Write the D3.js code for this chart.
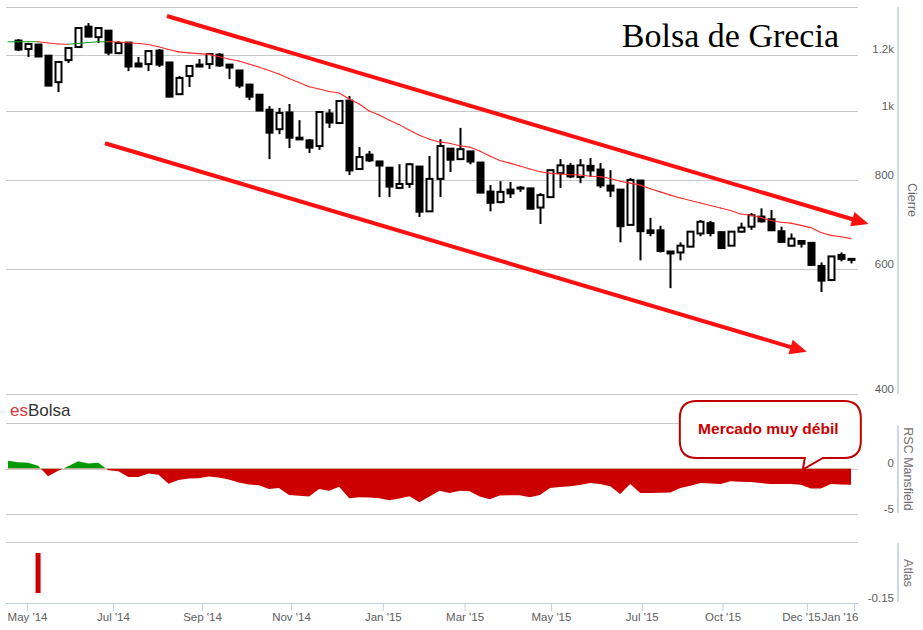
<!DOCTYPE html>
<html><head><meta charset="utf-8">
<script src="https://cdn.jsdelivr.net/npm/d3@7"></script>
<style>body{margin:0;background:#fff}svg{display:block}</style>
</head><body><svg id="c" width="923" height="630"></svg>
<script>
// ---------- DATA (weekly candles, index 0 = first visible week) ----------
const opens  = [1258,1222,1242,1198,1098,1179,1230,1316,1270,1299,1206,1250,1168,1164,1218,1172,1056,1120,1164,1164,1202,1164,1142,1091,1056,1006,943,997,919,911,893,994,962,1036,829,870,851,834,780,790,837,723,803,887,856,879,848,772,745,777,782,780,732,757,818,839,808,839,829,787,777,692,800,681,681,631,633,645,673,697,677,647,677,688,712,706,679,647,658,654,607,579,629,621];
const highs  = [1262,1242,1242,1198,1172,1230,1308,1329,1308,1299,1254,1250,1191,1214,1222,1172,1120,1157,1183,1206,1206,1164,1142,1091,1056,1016,1010,1023,971,913,997,1006,1033,1050,890,879,851,834,842,845,837,865,913,887,947,879,848,787,797,795,785,780,767,826,856,845,856,859,845,826,777,805,800,708,690,635,654,677,703,701,677,677,697,719,730,726,688,673,658,654,613,625,633,621];
const lows   = [1214,1191,1191,1084,1063,1168,1230,1270,1246,1198,1202,1138,1153,1138,1153,1046,1056,1081,1153,1146,1153,1109,1077,1036,1000,856,928,887,911,873,882,947,962,813,829,848,757,757,777,780,710,723,757,821,856,842,767,723,742,755,770,728,694,757,780,805,792,808,780,757,654,692,617,667,633,564,617,645,667,667,641,647,675,681,697,679,654,645,643,607,557,577,615,611];
const closes = [1218,1242,1191,1084,1172,1226,1308,1270,1308,1206,1246,1153,1153,1214,1160,1046,1113,1157,1153,1202,1157,1149,1084,1046,1000,931,994,916,911,887,997,962,1033,824,862,851,837,782,790,842,721,803,893,853,884,848,767,742,770,765,780,728,762,826,839,808,839,824,785,772,688,800,677,673,635,635,647,677,699,673,641,677,686,714,699,679,654,662,650,607,577,625,619,617];
// 30-week moving average (first value = week before the first visible candle)
const movingAvg = [1251,1251,1251,1251,1246,1242,1241,1244,1248,1251,1251,1250,1247,1244,1240,1231,1220,1211,1207,1204,1201,1193,1183,1176,1164,1153,1140,1127,1111,1097,1082,1074,1065,1060,1040,1023,1000,987,971,957,940,925,913,905,901,894,890,879,865,852,845,837,829,822,818,816,814,813,810,809,804,797,792,787,778,770,762,755,749,743,737,731,725,717,714,709,702,698,696,691,686,675,669,666,662];
// RSC Mansfield (same indexing as movingAvg)
const rscMansfield = [0.85,0.7,0.63,0.3,-0.85,-0.25,0.25,0.8,0.55,0.63,-0.2,-0.3,-0.93,-0.93,-0.56,-0.7,-1.67,-1.25,-1.1,-1.07,-0.89,-1.0,-1.2,-1.55,-1.75,-1.85,-2.25,-2.15,-2.9,-3.0,-3.07,-2.26,-2.44,-2.0,-3.26,-3.15,-3.2,-3.26,-3.5,-3.3,-3.04,-3.7,-3.07,-2.44,-2.7,-2.44,-2.5,-3.07,-3.37,-2.96,-2.93,-2.95,-3.15,-2.9,-2.15,-2.04,-1.95,-1.8,-1.6,-1.7,-1.96,-2.8,-1.7,-2.7,-2.68,-2.66,-2.63,-2.15,-1.9,-1.6,-1.65,-1.7,-1.41,-1.45,-1.48,-1.6,-1.7,-1.7,-1.7,-1.78,-2.2,-2.2,-1.7,-1.75,-1.78];
// Atlas indicator
const atlasWeeks  = [2];
const atlasValues = [-0.12];
// axis ticks
const priceTicks = [400,600,800,1000,1200,1400];
const priceTickLabels = ["400","600","800","1k","1.2k",""];
const rscTicks = [-5,0,5];
const rscTickLabels = ["-5","0",""];
const atlasTicks = [-0.15];
const atlasTickLabels = ["-0.15"];
const weekTicks = [0.9,9.46,18.33,27.2,36.35,44.5,53.1,62.15,70.2,78.6,83.3];
const weekTickLabels = ["May '14","Jul '14","Sep '14","Nov '14","Jan '15","Mar '15","May '15","Jul '15","Oct '15","Dec '15","Jan '16"];
// trend channel arrows: [weekIndex, price]
const trendStarts = [[14.84,1360],[8.67,901]];
const trendEnds   = [[84.76,694],[78.6,459]];
const calloutWeek = 78.2;

// ---------- LAYOUT ----------
const W=923, H=630, L=6, R=858;
const svg=d3.select("#c");
const font='"Liberation Sans", Arial, sans-serif';
const x=d3.scaleLinear().domain([0,83]).range([18,851]);
const yP=d3.scaleLog().domain([400,1400]).range([394.4,7]);
const yR=d3.scaleLinear().domain([-5,5]).range([514,423]);
const yA=d3.scaleLinear().domain([-0.15,0.033]).range([603,542]);

const defs=svg.append("defs");
defs.append("clipPath").attr("id","cp").append("rect").attr("x",L).attr("y",6).attr("width",R-L).attr("height",390);
defs.append("clipPath").attr("id","pos").append("rect").attr("x",L).attr("y",0).attr("width",R-L).attr("height",yR(0));
defs.append("clipPath").attr("id","neg").append("rect").attr("x",L).attr("y",yR(0)).attr("width",R-L).attr("height",100);

// gridlines
const grid=svg.append("g").attr("stroke","#c8c8c8").attr("stroke-width",1);
function gl(y){grid.append("line").attr("x1",L).attr("x2",R).attr("y1",Math.round(y)+0.5).attr("y2",Math.round(y)+0.5);}
priceTicks.forEach(v=>gl(yP(v)));
rscTicks.forEach(v=>gl(yR(v)));
gl(yA(yA.domain()[1]));

// right axis labels
function labels(scale,ticks,labs){
  svg.append("g").attr("transform","translate(894,0)")
    .call(d3.axisLeft(scale).tickValues(ticks).tickFormat((d,i)=>labs[i]).tickSize(0).tickPadding(0))
    .call(g=>{g.select(".domain").remove();g.selectAll("line").remove();
      g.attr("font-family",null).attr("font-size",null);
      g.selectAll("text").attr("dy",null).attr("y",-2).attr("fill","#606060")
       .style("font-family",font).style("font-size","11.5px");});
}
labels(yP,priceTicks,priceTickLabels);
labels(yR,rscTicks,rscTickLabels);
labels(yA,atlasTicks,atlasTickLabels);

// right axis lines
const ax=svg.append("g").attr("stroke","#c0d0e0").attr("stroke-width",1.6);
[[7,394],[425,513],[543,602]].forEach(s=>ax.append("line").attr("x1",898).attr("x2",898).attr("y1",s[0]).attr("y2",s[1]));

// axis titles
function title(t,cx,cy){svg.append("text").attr("transform",`translate(${cx},${cy}) rotate(90)`).attr("text-anchor","middle")
  .attr("fill","#707070").style("font-family",font).style("font-size","12.5px").text(t);}
title("Cierre",908,200);
title("RSC Mansfield",904,469);
title("Atlas",904,573);

// x axis
const xa=svg.append("g").attr("transform","translate(0,603)")
  .call(d3.axisBottom(x).tickValues(weekTicks).tickFormat((d,i)=>weekTickLabels[i]).tickSize(8).tickPadding(0));
xa.select(".domain").remove();
xa.attr("font-family",null).attr("font-size",null);
xa.selectAll("line").attr("stroke","#c0d0e0");
xa.selectAll("text").attr("dy",null).attr("y",18).attr("fill","#606060").style("font-family",font).style("font-size","11.5px");
xa.append("line").attr("x1",L).attr("x2",R).attr("y1",0.5).attr("y2",0.5).attr("stroke","#c0d0e0");
// keep labels inside the plot and avoid collisions (right to left)
const tickNodes=xa.selectAll(".tick").nodes().reverse();
let limit=R;
tickNodes.forEach(n=>{
  const d=d3.select(n).datum(), t=d3.select(n).select("text");
  const w=t.node().getComputedTextLength(), px=x(d);
  let shift=0;
  if(px+w/2>limit) shift=limit-(px+w/2);
  t.attr("x",shift);
  limit=px+shift-w/2-1;
});

// candles
const cg=svg.append("g").attr("clip-path","url(#cp)");
opens.forEach((o,j)=>{
  const c=closes[j], cx=Math.round(x(j))+0.5;
  cg.append("line").attr("x1",cx).attr("x2",cx).attr("y1",yP(highs[j])).attr("y2",yP(lows[j])).attr("stroke","#000").attr("stroke-width",2);
  const top=yP(Math.max(o,c)), bot=yP(Math.min(o,c));
  if(c>o){
    cg.append("rect").attr("x",cx-3).attr("y",top).attr("width",6).attr("height",Math.max(bot-top,1.5))
      .attr("fill","#fff").attr("stroke","#000").attr("stroke-width",2);
  } else {
    cg.append("rect").attr("x",cx-4).attr("y",top-0.5).attr("width",8).attr("height",Math.max(bot-top+1,3)).attr("fill","#000");
  }
});

// moving average coloured by RSC sign
const mg=svg.append("g").attr("clip-path","url(#cp)");
for(let k=0;k<movingAvg.length-1;k++){
  const pos=(rscMansfield[k]+rscMansfield[k+1])/2>0;
  mg.append("line").attr("x1",x(k-1)).attr("y1",yP(movingAvg[k])).attr("x2",x(k)).attr("y2",yP(movingAvg[k+1]))
    .attr("stroke",pos?"#1a9a1a":"#ff2a2a").attr("stroke-width",1.1).attr("stroke-linecap","round");
}

// trend arrows
trendStarts.forEach((s,i)=>{
  const e=trendEnds[i];
  const x1=x(s[0]),y1=yP(s[1]),x2=x(e[0]),y2=yP(e[1]);
  const dx=x2-x1,dy=y2-y1,len=Math.hypot(dx,dy),ux=dx/len,uy=dy/len;
  const hl=17,hw=7.5,bx=x2-ux*hl,by=y2-uy*hl;
  svg.append("line").attr("x1",x1).attr("y1",y1).attr("x2",bx+ux*2).attr("y2",by+uy*2).attr("stroke","#ff1010").attr("stroke-width",4);
  svg.append("path").attr("d",`M${x2},${y2}L${bx-uy*hw},${by+ux*hw}L${bx+uy*hw},${by-ux*hw}Z`).attr("fill","#ff1010");
});

// RSC area
const area=d3.area().x((d,k)=>x(k-1)).y0(yR(0)).y1(d=>yR(d));
svg.append("path").datum(rscMansfield).attr("d",area).attr("fill","#009900").attr("clip-path","url(#pos)");
svg.append("path").datum(rscMansfield).attr("d",area).attr("fill","#cc0000").attr("clip-path","url(#neg)");

// Atlas bars
atlasWeeks.forEach((w,i)=>{
  svg.append("rect").attr("x",x(w)-2.5).attr("width",5).attr("y",yA(0)).attr("height",yA(atlasValues[i])-yA(0)).attr("fill","#cc0000");
});

// title + brand
svg.append("text").attr("x",839).attr("y",47).attr("text-anchor","end")
  .style("font-family",'"Liberation Serif","Times New Roman",serif').style("font-size","34px").attr("fill","#000").text("Bolsa de Grecia");
const brand=svg.append("text").attr("x",10).attr("y",416).style("font-family",font).style("font-size","17px");
brand.append("tspan").attr("fill","#d8343a").text("es");
brand.append("tspan").attr("fill","#333").text("Bolsa");

// callout
const tx=x(calloutWeek), ty=yR(0);
const bl=tx-123, br=tx+58, bt=401, bb=458, r=17;
svg.append("path").attr("d",
  `M${bl+r},${bt}H${br-r}Q${br},${bt} ${br},${bt+r}V${bb-r}Q${br},${bb} ${br-r},${bb}H${tx+20}L${tx},${ty+1}L${tx+2},${bb}H${bl+r}Q${bl},${bb} ${bl},${bb-r}V${bt+r}Q${bl},${bt} ${bl+r},${bt}Z`)
  .attr("fill","#fff").attr("stroke","#c00000").attr("stroke-width",2);
svg.append("text").attr("x",(bl+br)/2-2).attr("y",434).attr("text-anchor","middle")
  .style("font-family",font).style("font-size","15.5px").style("font-weight","bold").attr("fill","#cc0000").text("Mercado muy débil");
</script></body></html>
